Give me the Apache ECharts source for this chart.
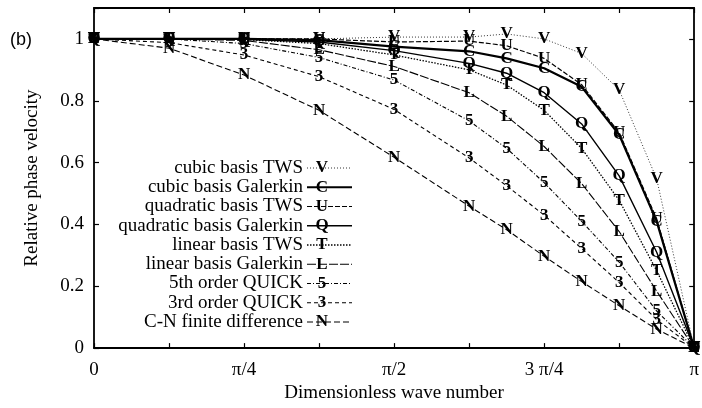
<!DOCTYPE html>
<html>
<head>
<meta charset="utf-8">
<script src="https://cdn.jsdelivr.net/npm/echarts@6/dist/echarts.min.js"></script>
<style>
  html, body { margin: 0; padding: 0; background: #fff; }
  #chart { width: 702px; height: 408px; }
</style>
</head>
<body>
<div id="chart"></div>
<script>
// Wave numbers in units of pi
const waveNumbers = [0, 0.125, 0.25, 0.375, 0.5, 0.625, 0.6875, 0.75, 0.8125, 0.875, 0.9375, 1];

// Relative phase velocity for each scheme
const cubicTWS      = [1, 1, 1, 1.0, 1.006, 1.006, 1.016, 1.0, 0.953, 0.835, 0.547, 0];
const cubicGalerkin = [1, 1, 1, 0.996, 0.975, 0.96, 0.937, 0.905, 0.845, 0.69, 0.41, 0];
const quadTWS       = [1, 1, 1, 1, 0.99, 0.993, 0.978, 0.937, 0.852, 0.697, 0.418, 0];
const quadGalerkin  = [1, 1, 0.999, 0.99, 0.962, 0.921, 0.889, 0.826, 0.725, 0.557, 0.31, 0];
const linearTWS     = [1, 1, 0.998, 0.985, 0.948, 0.9, 0.851, 0.769, 0.646, 0.478, 0.25, 0];
const linearGalerkin= [1, 1, 0.995, 0.965, 0.911, 0.826, 0.75, 0.652, 0.532, 0.377, 0.184, 0];
const quick5        = [1, 1, 0.985, 0.94, 0.867, 0.735, 0.646, 0.535, 0.41, 0.278, 0.12, 0];
const quick3        = [1, 0.988, 0.948, 0.878, 0.772, 0.615, 0.525, 0.43, 0.322, 0.212, 0.092, 0];
const cnDiff        = [1, 0.97, 0.883, 0.769, 0.617, 0.459, 0.383, 0.297, 0.215, 0.137, 0.061, 0];

const seriesNames = [
  'cubic basis TWS', 'cubic basis Galerkin', 'quadratic basis TWS',
  'quadratic basis Galerkin', 'linear basis TWS', 'linear basis Galerkin',
  '5th order QUICK', '3rd order QUICK', 'C-N finite difference'
];
const seriesLetters = ['V', 'C', 'U', 'Q', 'T', 'L', '5', '3', 'N'];
const seriesValues = [cubicTWS, cubicGalerkin, quadTWS, quadGalerkin, linearTWS,
                      linearGalerkin, quick5, quick3, cnDiff];

// x tick labels at multiples of pi/8 (only even ones are labelled)
const xTickLabels = ['0', '', 'π/4', '', 'π/2', '', '3 π/4', '', 'π'];

// Line styles per scheme
const lineStyles = [
  { width: 0.8, type: [1, 2] },
  { width: 2.2, type: 'solid' },
  { width: 1.2, type: [5, 2] },
  { width: 1.4, type: 'solid' },
  { width: 1.3, type: [1.5, 1.5] },
  { width: 1.1, type: [9, 2] },
  { width: 1.1, type: [4, 2, 1, 2] },
  { width: 1.1, type: [4, 3] },
  { width: 1.1, type: [6, 3] }
];

const SERIF = '"Liberation Serif", "Times New Roman", serif';
const MARK_FONT = 'bold 17px ' + SERIF;
const chart = echarts.init(document.getElementById('chart'), null, { renderer: 'canvas' });

const series = seriesValues.map((vals, i) => ({
  name: seriesNames[i],
  type: 'line',
  data: vals.map((v, j) => [waveNumbers[j], v]),
  symbol: 'circle',
  symbolSize: 1,
  itemStyle: { color: 'rgba(0,0,0,0)', borderWidth: 0 },
  lineStyle: { color: '#000', width: lineStyles[i].width, type: lineStyles[i].type },
  label: {
    show: true,
    position: 'inside',
    formatter: seriesLetters[i],
    color: '#000',
    fontFamily: SERIF,
    fontWeight: 'bold',
    fontSize: 17
  },
  emphasis: { disabled: true },
  animation: false,
  z: 3
}));

// Legend block: name, sample line, letter
const legendTop = 168, legendStep = 19.25;
const graphic = [];
seriesNames.forEach((name, i) => {
  const y = legendTop + i * legendStep;
  graphic.push({
    type: 'text', x: 303, y: y,
    style: { text: name, fill: '#000', font: '19px ' + SERIF, textAlign: 'right', textVerticalAlign: 'middle' }
  });
  graphic.push({
    type: 'line',
    shape: { x1: 307, y1: y, x2: 352, y2: y },
    style: { stroke: '#000', lineWidth: lineStyles[i].width,
             lineDash: Array.isArray(lineStyles[i].type) ? lineStyles[i].type : null }
  });
  graphic.push({
    type: 'text', x: 322, y: y,
    style: { text: seriesLetters[i], fill: '#000', font: MARK_FONT, textAlign: 'center', textVerticalAlign: 'middle' }
  });
});
graphic.push({
  type: 'text', x: 10, y: 40,
  style: { text: '(b)', fill: '#000', font: '18px "Liberation Sans", Arial, sans-serif', textAlign: 'left', textVerticalAlign: 'middle' }
});

const axisLine = { show: true, onZero: false, lineStyle: { color: '#000', width: 1.8 } };
const axisTick = { show: true, inside: true, length: 5, lineStyle: { color: '#000', width: 1.2 } };

chart.setOption({
  backgroundColor: '#fff',
  animation: false,
  grid: { left: 94, right: 1, top: 8, bottom: 52, containLabel: false },
  xAxis: [{
    type: 'value', min: 0, max: 1, interval: 0.125,
    position: 'bottom',
    name: 'Dimensionless wave number',
    nameLocation: 'middle', nameGap: 30,
    nameTextStyle: { color: '#000', fontFamily: SERIF, fontSize: 19 },
    axisLine, axisTick,
    axisLabel: {
      color: '#000', fontFamily: SERIF, fontSize: 19, margin: 12,
      formatter: v => xTickLabels[Math.round(v * 8)] || ''
    },
    splitLine: { show: false }
  }, {
    type: 'value', min: 0, max: 1, interval: 0.125,
    position: 'top',
    axisLine, axisTick,
    axisLabel: { show: false },
    splitLine: { show: false }
  }],
  yAxis: [{
    type: 'value', min: 0, max: 1.1, interval: 0.2,
    position: 'left',
    name: 'Relative phase velocity',
    nameLocation: 'middle', nameGap: 52, nameRotate: 90,
    nameTextStyle: { color: '#000', fontFamily: SERIF, fontSize: 19 },
    axisLine, axisTick,
    axisLabel: {
      color: '#000', fontFamily: SERIF, fontSize: 19, margin: 10,
      formatter: v => (v > 1.05 ? '' : String(Math.round(v * 10) / 10))
    },
    splitLine: { show: false }
  }, {
    type: 'value', min: 0, max: 1.1, interval: 0.2,
    position: 'right',
    axisLine, axisTick,
    axisLabel: { show: false },
    splitLine: { show: false }
  }],
  graphic,
  series
});
</script>
</body>
</html>
